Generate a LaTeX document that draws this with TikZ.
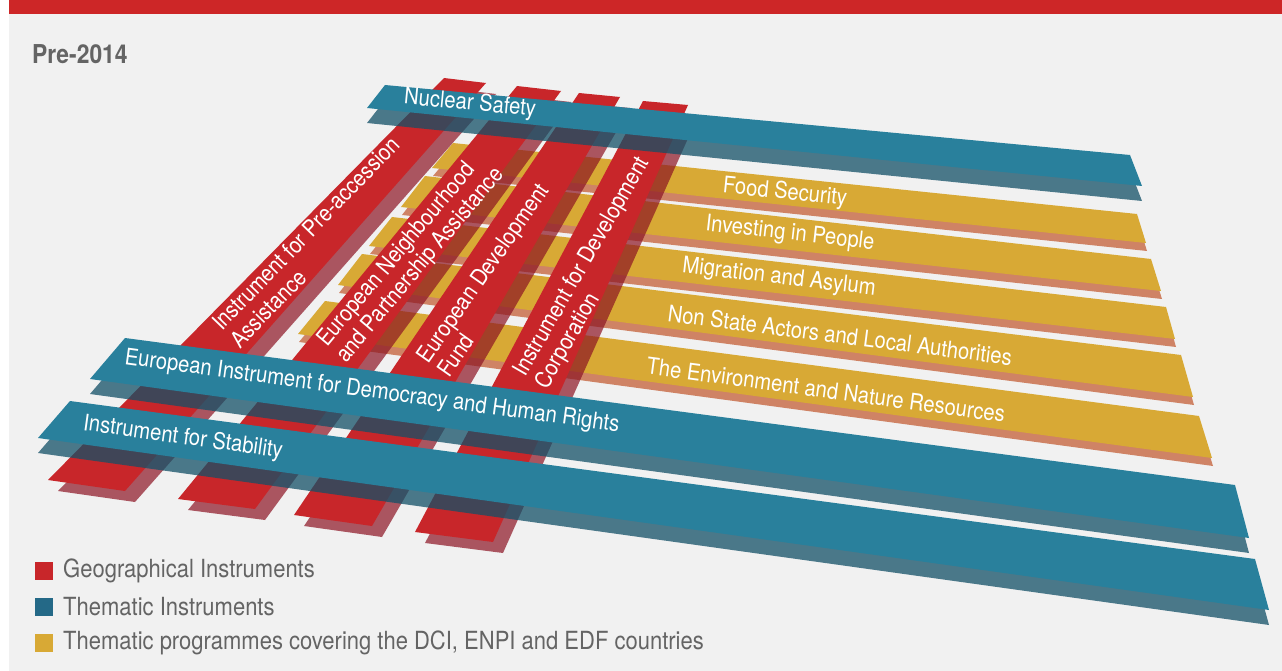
\documentclass[tikz,border=0pt]{standalone}
\usepackage{fontspec}
\setmainfont{TeX Gyre Heros}[FakeStretch=0.88]

\definecolor{panel}{RGB}{241,241,241}
\definecolor{headred}{RGB}{205,38,39}
\definecolor{geored}{RGB}{200,38,42}
\definecolor{georedshadow}{RGB}{140,20,35}
\definecolor{themblue}{RGB}{41,128,156}
\definecolor{themblueshadow}{RGB}{19,80,103}
\definecolor{keyblue}{RGB}{36,105,135}
\definecolor{progyellow}{RGB}{216,169,53}
\definecolor{progsalmon}{RGB}{207,131,101}
\definecolor{captiongray}{RGB}{100,100,100}

% one flat slab on the plane: its shadow first, then the slab itself
\newcommand{\slab}[2]{\fill[#1shade] #2; \fill[#1bar] #2;}

\begin{document}
\begin{tikzpicture}[x=1pt,y=-1pt]
  \tikzset{
    redbar/.style={fill=geored},
    redshade/.style={fill=georedshadow, fill opacity=.7, shift={(10,11)}},
    bluebar/.style={fill=themblue},
    blueshade/.style={fill=themblueshadow, fill opacity=.75, shift={(0,15)}},
    yellowbar/.style={fill=progyellow},
    yellowshade/.style={fill=progsalmon, shift={(1,8)}},
    tag/.style={text=white, inner sep=0pt, font=\fontsize{23}{25}\selectfont},
    keybox/.style={minimum size=18pt, inner sep=0pt},
    keytext/.style={text=captiongray, anchor=west, inner sep=0pt, font=\fontsize{25}{27}\selectfont}
  }
  \useasboundingbox (0,0) rectangle (1282,671);
  \fill[panel] (9,0) rectangle (1282,671);
  \fill[headred] (9,0) rectangle (1282,14);

  \node[text=captiongray, anchor=west, inner sep=0pt, font=\fontsize{26}{28}\selectfont\bfseries] (era) at (32,54) {Pre-2014};

%% Thematic programmes
  \slab{yellow}{(453,143) -- (1137,214) -- (1146,243) -- (432,168) -- cycle}
  \slab{yellow}{(425,176) -- (1151,259) -- (1161,291) -- (401,207) -- cycle}
  \slab{yellow}{(392,217) -- (1166,307) -- (1175,339) -- (369,246) -- cycle}
  \slab{yellow}{(362,254) -- (1181,355) -- (1193,397) -- (338,285) -- cycle}
  \slab{yellow}{(325,301) -- (1199,416) -- (1212,458) -- (298,334) -- cycle}

%% Geographical instruments
  \slab{red}{(444,78) -- (486,83) -- (125,491) -- (48,480) -- cycle}
  \slab{red}{(517,86) -- (561,91) -- (255,509) -- (178,499) -- cycle}
  \slab{red}{(579,93) -- (620,97) -- (372,526) -- (294,515) -- cycle}
  \slab{red}{(643,101) -- (688,105) -- (493,542) -- (415,532) -- cycle}

%% Thematic instruments
  \slab{blue}{(385,85) -- (1130,155) -- (1142,186) -- (367,108) -- cycle}
  \slab{blue}{(125,338) -- (1235,485) -- (1249,538) -- (90,379) -- cycle}
  \slab{blue}{(70,401) -- (1255,559) -- (1269,610) -- (38,438) -- cycle}

%% Labels
  \node[tag, rotate=-5.4] (nuclear) at (470,104) {Nuclear Safety};
  \node[tag, rotate=-5.9] (food) at (785,193) {Food Security};
  \node[tag, rotate=-6.4] (people) at (790,234) {Investing in People};
  \node[tag, rotate=-6.7] (migration) at (779,278) {Migration and Asylum};
  \node[tag, rotate=-7.3] (actors) at (840,335) {Non State Actors and Local Authorities};
  \node[tag, rotate=-7.7] (environment) at (826,390) {The Environment and Nature Resources};
  \node[tag, rotate=-7.8] (eidhr) at (372,392) {European Instrument for Democracy and Human Rights};
  \node[tag, rotate=-7.9] (stability) at (183,438) {Instrument for Stability};

  \node[tag, align=left, anchor=west, rotate=46] (ipa) at (225,335) {Instrument for Pre-accession\\Assistance};
  \node[tag, align=left, anchor=west, rotate=50] (enpi) at (332,352) {European Neighbourhood\\and Partnership Assistance};
  \node[tag, align=left, anchor=west, rotate=55] (edf) at (432,367) {European Development\\Fund};
  \node[tag, align=left, anchor=west, rotate=60] (dci) at (531,381) {Instrument for Development\\Corporation};

%% Key
  \node[keybox, fill=geored] (kgeo) at (44,571) {};
  \node[keybox, fill=keyblue] (kthem) at (44,607) {};
  \node[keybox, fill=progyellow] (kprog) at (44,643) {};
  \node[keytext] (tgeo) at (63,571) {Geographical Instruments};
  \node[keytext] (tthem) at (63,607) {Thematic Instruments};
  \node[keytext] (tprog) at (63,643) {Thematic programmes covering the DCI, ENPI and EDF countries};
\end{tikzpicture}
\end{document}
